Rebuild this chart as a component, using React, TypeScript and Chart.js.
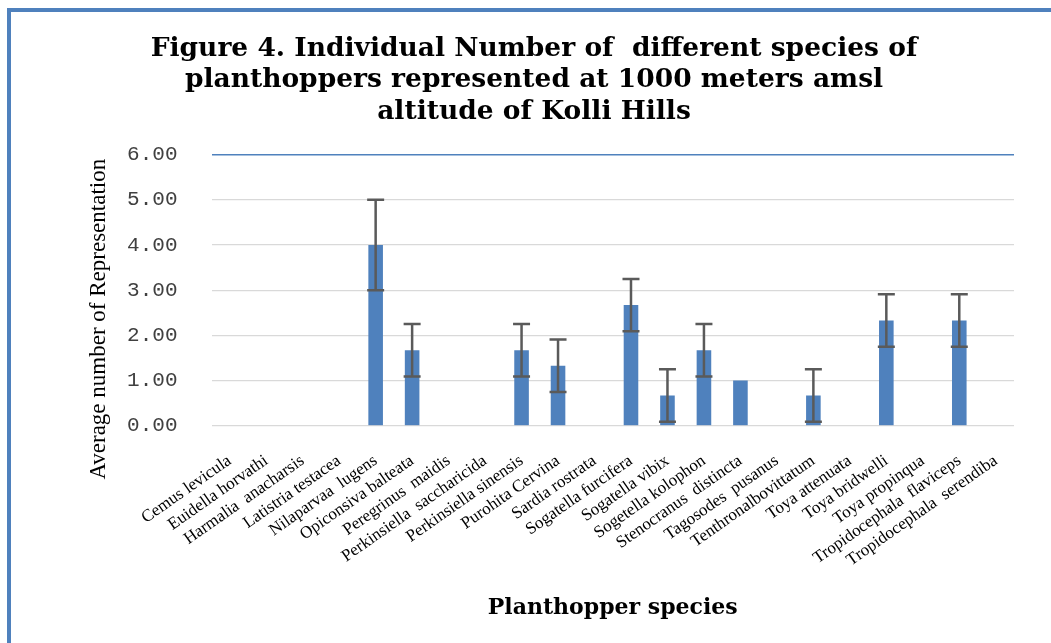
import React, { useEffect, useRef } from "react";
import { Chart, registerables } from "chart.js";

Chart.register(...registerables);

const speciesLabels: string[] = [
  "Cemus levicula",
  "Euidella horvathi",
  "Harmalia  anacharsis",
  "Latistria testacea",
  "Nilaparvaa  lugens",
  "Opiconsiva balteata",
  "Peregrinus  maidis",
  "Perkinsiella  saccharicida",
  "Perkinsiella sinensis",
  "Purohita Cervina",
  "Sardia rostrata",
  "Sogatella furcifera",
  "Sogatella vibix",
  "Sogetella kolophon",
  "Stenocranus  distincta",
  "Tagosodes  pusanus",
  "Tenthronalbovittatum",
  "Toya attenuata",
  "Toya bridwelli",
  "Toya propinqua",
  "Tropidocephala  flaviceps",
  "Tropidocephala  serendiba",
];

const meanValues: number[] = [
  0, 0, 0, 0, 4.0, 1.67, 0, 0, 1.67, 1.33, 0, 2.67, 0.67, 1.67, 1.0, 0, 0.67, 0, 2.33, 0, 2.33, 0,
];

const errorValues: number[] = [
  0, 0, 0, 0, 1.0, 0.58, 0, 0, 0.58, 0.58, 0, 0.58, 0.58, 0.58, 0, 0, 0.58, 0, 0.58, 0, 0.58, 0,
];

const titleLines: string[] = [
  "Figure 4. Individual Number of  different species of",
  "planthoppers represented at 1000 meters amsl",
  "altitude of Kolli Hills",
];

const yTitle = "Average number of Representation";
const xTitle = "Planthopper species";

const errorBarPlugin = {
  id: "errorBars",
  afterDatasetsDraw(chart: any) {
    const meta = chart.getDatasetMeta(0);
    const yScale = chart.scales.y;
    const ctx = chart.ctx;
    ctx.save();
    ctx.strokeStyle = "#5a5a5a";
    ctx.lineWidth = 2.5;
    meta.data.forEach((bar: any, i: number) => {
      const e = errorValues[i];
      if (!e) return;
      const v = meanValues[i];
      const x = bar.x;
      const yTop = yScale.getPixelForValue(v + e);
      const yBot = yScale.getPixelForValue(v - e);
      const half = 8.5;
      ctx.beginPath();
      ctx.moveTo(x, yTop);
      ctx.lineTo(x, yBot);
      ctx.moveTo(x - half, yTop);
      ctx.lineTo(x + half, yTop);
      ctx.moveTo(x - half, yBot);
      ctx.lineTo(x + half, yBot);
      ctx.stroke();
    });
    ctx.restore();
  },
};

const yTitlePlugin = {
  id: "yTitleText",
  afterDraw(chart: any) {
    const { ctx, chartArea } = chart;
    ctx.save();
    ctx.translate(chartArea.left - 113, (chartArea.top + chartArea.bottom) / 2 + 29);
    ctx.rotate(-Math.PI / 2);
    ctx.font = "23px 'Liberation Serif'";
    ctx.fillStyle = "#000000";
    ctx.textAlign = "center";
    ctx.textBaseline = "middle";
    ctx.fillText(yTitle, 0, 0);
    ctx.restore();
  },
};

export default function App() {
  const canvasRef = useRef<HTMLCanvasElement | null>(null);

  useEffect(() => {
    if (!canvasRef.current) return;
    const chart = new Chart(canvasRef.current, {
      type: "bar",
      data: {
        labels: speciesLabels,
        datasets: [
          {
            data: meanValues,
            backgroundColor: "#4F81BD",
            borderWidth: 0,
            categoryPercentage: 0.8,
            barPercentage: 0.5,
          },
        ],
      },
      options: {
        responsive: false,
        animation: false,
        layout: { padding: { left: 54, right: 37, top: 0, bottom: 22 } },
        plugins: {
          legend: { display: false },
          tooltip: { enabled: false },
          title: {
            display: true,
            text: titleLines,
            color: "#000000",
            font: { family: "DejaVu Serif", weight: "bold", size: 26.5, lineHeight: 1.19 },
            padding: { top: 33, bottom: 27 },
          },
        },
        scales: {
          x: {
            grid: { display: false },
            border: { display: false },
            ticks: {
              autoSkip: false,
              minRotation: 35,
              maxRotation: 35,
              color: "#000000",
              padding: 17,
              font: { family: "Liberation Serif", size: 17 },
            },
            title: {
              display: true,
              text: xTitle,
              color: "#000000",
              font: { family: "DejaVu Serif", weight: "bold", size: 22 },
              padding: { top: 7, bottom: 0 },
            },
          },
          y: {
            min: 0,
            max: 6,
            border: { display: false },
            afterFit: (scale: any) => {
              scale.width = 157.5;
            },
            grid: {
              drawTicks: false,
              color: (ctx: any) => (ctx.tick && ctx.tick.value === 6 ? "#4F81BD" : "#D9D9D9"),
              lineWidth: (ctx: any) => (ctx.tick && ctx.tick.value === 6 ? 1.5 : 1.2),
            },
            ticks: {
              stepSize: 1,
              padding: 34,
              color: "#404040",
              font: { family: "Liberation Mono", size: 21 },
              callback: (v: any) => Number(v).toFixed(2),
            },
          },
        },
      },
      plugins: [errorBarPlugin, yTitlePlugin],
    });
    return () => chart.destroy();
  }, []);

  return (
    <div
      style={{
        position: "fixed",
        left: 0,
        top: 0,
        width: 1051,
        height: 643,
        overflow: "hidden",
        background: "#ffffff",
      }}
    >
      <div
        style={{
          position: "absolute",
          left: 7,
          top: 8,
          width: 2000,
          height: 2000,
          borderLeft: "4px solid #4F81BD",
          borderTop: "4px solid #4F81BD",
        }}
      />
      <canvas
        ref={canvasRef}
        width={1051}
        height={643}
        style={{ position: "absolute", left: 0, top: 0 }}
      />
    </div>
  );
}
